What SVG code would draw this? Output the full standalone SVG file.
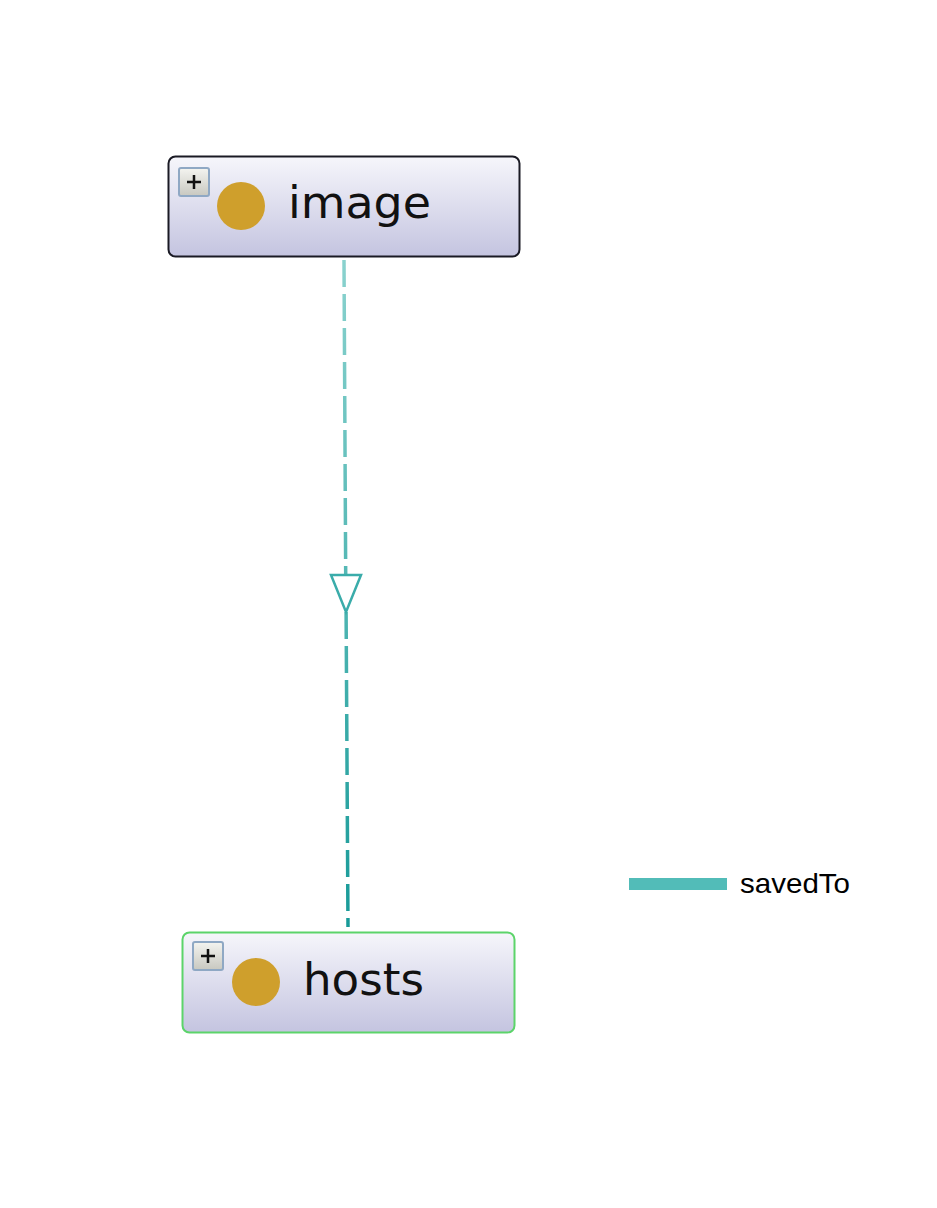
<svg xmlns="http://www.w3.org/2000/svg" width="937" height="1208" viewBox="0 0 937 1208">
<style>
.box{stroke-width:2}
.lbl{font-family:"DejaVu Sans",sans-serif;font-size:45px;fill:#111}
.leg{font-family:"Liberation Sans",Arial,sans-serif;font-size:28px;fill:#000}
.dot{fill:#cf9f2c}
.plusbox{fill:url(#pg);stroke:#8fa8c4;stroke-width:2}
.plus{stroke:#111;stroke-width:2.5}
.edge{fill:none;stroke:url(#eg);stroke-width:3.5;stroke-dasharray:27 7}
</style>
<defs>
<linearGradient id="ng" x1="0" y1="0" x2="0" y2="1">
<stop offset="0" stop-color="#f6f6fb"/>
<stop offset="1" stop-color="#c4c4e0"/>
</linearGradient>
<linearGradient id="pg" x1="0" y1="0" x2="0" y2="1">
<stop offset="0" stop-color="#f4f4f0"/>
<stop offset="1" stop-color="#c8c8c0"/>
</linearGradient>
<linearGradient id="eg" gradientUnits="userSpaceOnUse" x1="0" y1="260" x2="0" y2="927">
<stop offset="0" stop-color="#8ad2ce"/>
<stop offset="1" stop-color="#179a98"/>
</linearGradient>
</defs>
<rect width="937" height="1208" fill="#fff"/>
<g id="connectors">
<path class="edge" d="M344,260 L345.7,575"/>
<path class="edge" d="M346.1,612 L348,927"/>
<polygon points="331,575 361,575 346,612" fill="#fff" stroke="#3aacaa" stroke-width="2.5" stroke-linejoin="miter"/>
</g>
<g id="image">
<rect class="box" x="168.5" y="156.5" width="351" height="100" rx="7" fill="url(#ng)" stroke="#1a1a24"/>
<rect class="plusbox" x="179" y="168" width="30" height="28" rx="2"/>
<path class="plus" d="M187,182 H201 M194,175 V189"/>
<circle class="dot" cx="241" cy="206" r="24"/>
<text class="lbl" x="288" y="218" textLength="143" lengthAdjust="spacingAndGlyphs">image</text>
</g>
<g id="hosts">
<rect class="box" x="182.5" y="932.5" width="332" height="100" rx="7" fill="url(#ng)" stroke="#5cd46a"/>
<rect class="plusbox" x="193" y="942" width="30" height="28" rx="2"/>
<path class="plus" d="M201,956 H215 M208,949 V963"/>
<circle class="dot" cx="256" cy="982" r="24"/>
<text class="lbl" x="303" y="995" textLength="121" lengthAdjust="spacingAndGlyphs">hosts</text>
</g>
<g id="legend">
<rect x="629" y="878" width="98" height="12" fill="#52bcb8"/>
<text class="leg" x="740" y="893" textLength="110" lengthAdjust="spacingAndGlyphs">savedTo</text>
</g>
</svg>
